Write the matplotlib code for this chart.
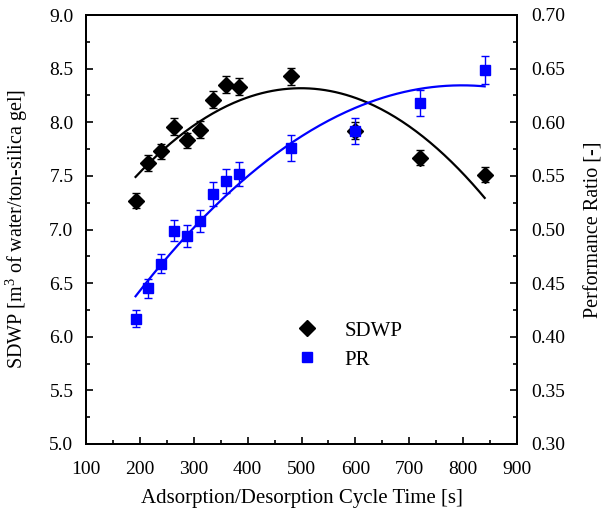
import matplotlib
matplotlib.use("Agg")
import matplotlib.pyplot as plt
import numpy as np
from matplotlib.ticker import MultipleLocator
from matplotlib.lines import Line2D

plt.rcParams['font.family'] = ['Liberation Serif', 'DejaVu Serif']
plt.rcParams['mathtext.fontset'] = 'custom'
plt.rcParams['mathtext.rm'] = 'Liberation Serif'
plt.rcParams['font.size'] = 14

cycle_time = [192, 216, 240, 264, 288, 312, 336, 360, 384, 480, 600, 720, 840]
sdwp = [7.27, 7.62, 7.73, 7.96, 7.83, 7.93, 8.21, 8.35, 8.33, 8.43, 7.92, 7.67, 7.51]
sdwp_err = [0.07, 0.07, 0.07, 0.08, 0.07, 0.08, 0.08, 0.08, 0.08, 0.08, 0.08, 0.07, 0.07]
pr = [0.417, 0.445, 0.468, 0.499, 0.494, 0.508, 0.533, 0.545, 0.552, 0.576, 0.592, 0.618, 0.649]
pr_err = [0.008, 0.009, 0.009, 0.010, 0.010, 0.010, 0.011, 0.011, 0.011, 0.012, 0.012, 0.012, 0.013]

fig = plt.figure(figsize=(6.02, 5.15), dpi=100)
ax = fig.add_axes([86/602, 1-444/515, (517-86)/602, (444-15)/515])
ax2 = ax.twinx()

x = np.array(cycle_time, dtype=float)
xf = np.linspace(x.min(), x.max(), 200)
c1 = np.polyfit(x, sdwp, 2)
c2 = np.polyfit(x, pr, 2)
ax.plot(xf, np.polyval(c1, xf), color='black', lw=1.6, zorder=2)
ax2.plot(xf, np.polyval(c2, xf), color='blue', lw=1.6, zorder=2)

ax.errorbar(cycle_time, sdwp, yerr=sdwp_err, fmt='D', color='black', ms=8.5,
            capsize=3, elinewidth=1, capthick=1, zorder=3)
ax2.errorbar(cycle_time, pr, yerr=pr_err, fmt='s', color='blue', ms=6.5,
             capsize=3, elinewidth=1, capthick=1, zorder=3)

ax.set_xlim(100, 900)
ax.set_ylim(5.0, 9.0)
ax2.set_ylim(0.30, 0.70)
ax.xaxis.set_major_locator(MultipleLocator(100))
ax.xaxis.set_minor_locator(MultipleLocator(50))
ax.yaxis.set_major_locator(MultipleLocator(0.5))
ax.yaxis.set_minor_locator(MultipleLocator(0.25))
ax2.yaxis.set_major_locator(MultipleLocator(0.05))
ax2.yaxis.set_minor_locator(MultipleLocator(0.025))
ax.yaxis.set_major_formatter(plt.FormatStrFormatter('%.1f'))
ax2.yaxis.set_major_formatter(plt.FormatStrFormatter('%.2f'))

for a in (ax, ax2):
    a.tick_params(which='major', direction='in', length=5, width=1.2, labelsize=14)
    a.tick_params(which='minor', direction='in', length=3, width=1.2)
    for s in a.spines.values():
        s.set_linewidth(1.4)
ax.tick_params(axis='x', which='both', top=False, pad=12)
ax.tick_params(axis='y', which='both', right=False, pad=9)
ax2.tick_params(axis='y', pad=10)

ax.set_xlabel('Adsorption/Desorption Cycle Time [s]', fontsize=15, labelpad=8)
ax.set_ylabel('SDWP [m$^3$ of water/ton-silica gel]', fontsize=14.5, labelpad=14)
ax2.set_ylabel('Performance Ratio [-]', fontsize=14.5, labelpad=14)

handles = [Line2D([], [], marker='D', color='black', ls='none', ms=8.5),
           Line2D([], [], marker='s', color='blue', ls='none', ms=6.5)]
ax2.legend(handles, ['SDWP', 'PR'], loc='upper left',
           bbox_to_anchor=(0.469, 0.306), borderaxespad=0, frameon=False,
           fontsize=15, handletextpad=1.3, labelspacing=0.45, handlelength=1.0,
           numpoints=1)

fig.savefig('out.png', dpi=100)
